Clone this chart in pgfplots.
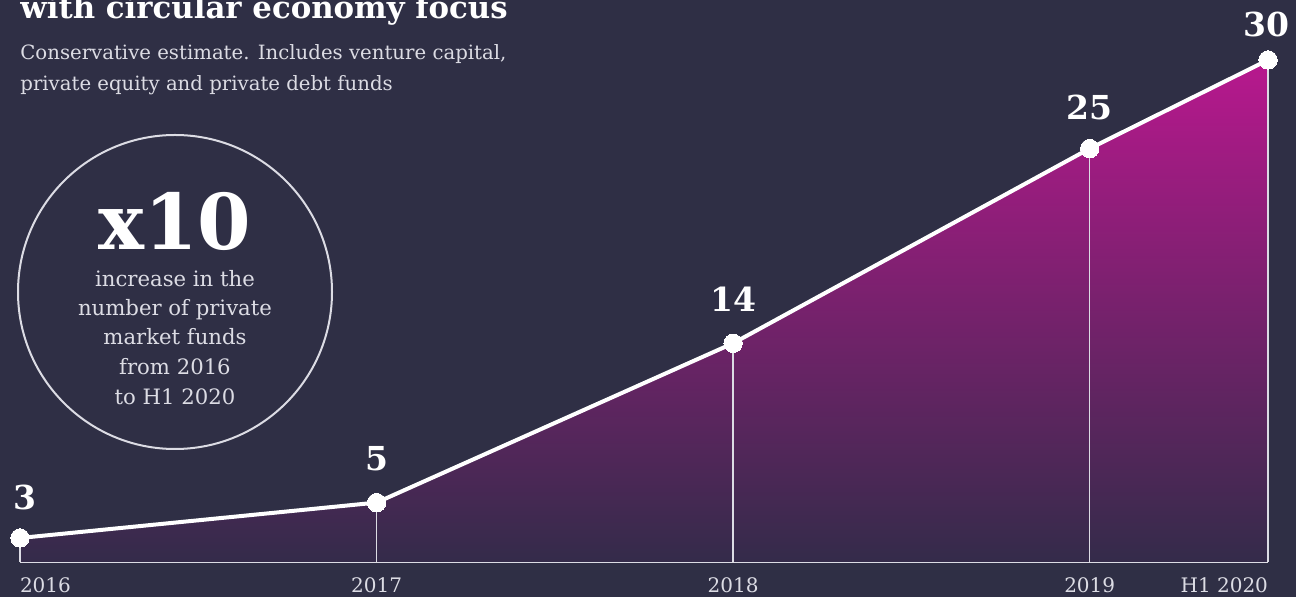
\documentclass[border=0pt]{standalone}
\usepackage{pgfplots}
\pgfplotsset{compat=1.18}
\usepackage{fontspec}
\setmainfont{DejaVu Serif}
\definecolor{bg}{HTML}{2F2F45}
\definecolor{mag}{HTML}{B8188E}
\definecolor{midm}{HTML}{981B80}
\definecolor{deep}{HTML}{342B4A}
\definecolor{lgray}{HTML}{DCDCE4}
\begin{document}
\begin{tikzpicture}[x=0.5pt,y=-0.5pt]
\useasboundingbox (0,0) rectangle (1296,597);
\clip (0,0) rectangle (1296,597);
\fill[bg] (0,0) rectangle (1296,597);
% title and subtitle
\node[anchor=base west, inner sep=0, text=white, font=\bfseries\fontsize{15.4}{18}\selectfont] at (20,19) {with circular economy focus};
\node[anchor=base west, inner sep=0, text=lgray, font=\fontsize{9.85}{12}\selectfont] at (20,60) {Conservative estimate. Includes venture capital,};
\node[anchor=base west, inner sep=0, text=lgray, font=\fontsize{9.85}{12}\selectfont] at (20,91) {private equity and private debt funds};
% circle callout
\draw[lgray, line width=1pt] (175,292) circle[radius=78.5pt];
\node[anchor=base, inner sep=0, text=white, font=\bfseries\fontsize{38.5}{40}\selectfont] at (175,250) {x10};
\foreach \t/\yy in {increase in the/287, number of private/316, market funds/345, from 2016/375, to H1 2020/405}{
  \node[anchor=base, inner sep=0, text=lgray, font=\fontsize{10.6}{12}\selectfont] at (175,\yy) {\t};
}
\begin{axis}[
  at={(10pt,-281pt)}, anchor=south west,
  scale only axis, width=624pt, height=251pt,
  xmin=2016, xmax=2019.5, ymin=1.644, ymax=30,
  clip=false,
  axis x line*=bottom, axis y line=none,
  axis line style={lgray, line width=1pt, -},
  xtick={2016,2017,2018,2019,2019.5},
  xticklabels={\makebox[0pt][l]{2016},2017,2018,2019,\makebox[0pt][r]{H1 2020}},
  major tick length=0pt,
  /pgf/number format/assume math mode=true,
  xticklabel style={anchor=base, yshift=-15.5pt, text=lgray, font=\fontsize{10}{12}\selectfont, inner sep=0pt},
  lbl/.style={draw=none, mark=none, nodes near coords,
    every node near coord/.style={anchor=base, yshift=#1, inner sep=0pt, text=white, font=\bfseries\fontsize{16.5}{20}\selectfont}},
]
\addplot[draw=none, top color=mag, middle color=midm, bottom color=deep] coordinates {
  (2016,1.644) (2016,3) (2017,5) (2018,14) (2019,25) (2019.5,30) (2019.5,1.644)
};
\addplot[lgray, line width=0.7pt] coordinates {(2016,1.644) (2016,3)};
\addplot[lgray, line width=0.7pt] coordinates {(2017,1.644) (2017,5)};
\addplot[lgray, line width=0.7pt] coordinates {(2018,1.644) (2018,14)};
\addplot[lgray, line width=0.7pt] coordinates {(2019,1.644) (2019,25)};
\addplot[lgray, line width=0.7pt] coordinates {(2019.5,1.644) (2019.5,30)};
\addplot[white, line width=2pt, mark=*, mark size=4.6pt, mark options={fill=white, draw=white, line width=0pt}]
  coordinates {(2016,3) (2017,5) (2018,14) (2019,25) (2019.5,30)};
\addplot[lbl=14pt, every node near coord/.append style={xshift=2.5pt}] coordinates {(2016,3)};
\addplot[lbl=16pt] coordinates {(2017,5) (2018,14)};
\addplot[lbl=14.5pt] coordinates {(2019,25)};
\addplot[lbl=11.5pt, every node near coord/.append style={xshift=-1pt}] coordinates {(2019.5,30)};
\end{axis}
\end{tikzpicture}
\end{document}
